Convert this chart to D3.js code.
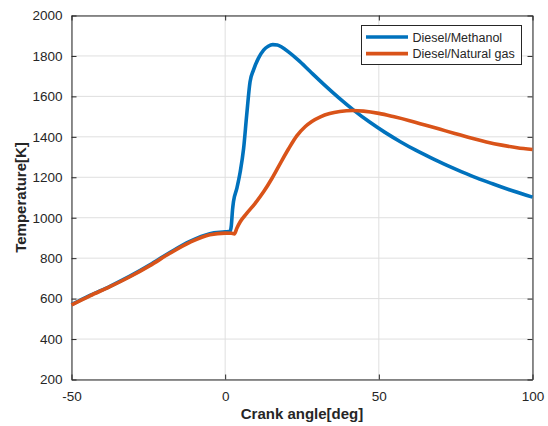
<!DOCTYPE html>
<html>
<head>
<meta charset="utf-8">
<script src="https://cdn.jsdelivr.net/npm/d3@7"></script>
<style>
  body { margin: 0; background: #fff; }
  text { font-family: "Liberation Sans", Arial, sans-serif; fill: #262626; }
</style>
</head>
<body>
<div id="chart-container"></div>
<script>
// Series data
const angleMethanol = [-50, -44, -37.5, -31, -24.5, -18, -11.5, -5, 0, 1.6, 2.0, 2.4, 2.7, 3.8, 4.9, 6.0, 7.0, 8.1, 9.2, 10.8, 12.5, 14, 15.5, 17, 18.5, 20.6, 23.8, 27.6, 32, 37, 42, 47, 52, 57, 62, 67, 72, 77, 82, 87, 92, 100];
const tempMethanol = [570, 616, 661, 711, 767, 828, 883, 921, 930, 933, 960, 1040, 1079, 1145, 1227, 1342, 1507, 1672, 1730, 1788, 1829, 1848, 1856, 1854, 1843, 1820, 1779, 1724, 1661, 1593, 1530, 1473, 1422, 1376, 1334, 1296, 1260, 1227, 1196, 1168, 1141, 1102];

const angleGas = [-50, -44, -37.5, -31, -24.5, -18, -11.5, -5, 0, 2, 3, 3.8, 4.9, 7, 9.7, 12.5, 15.2, 17.9, 20.6, 23.3, 26, 28.2, 31, 34, 37.3, 41.5, 45, 50, 55, 60, 65, 70, 75, 80, 85, 90, 95, 100];
const tempGas = [569, 614, 659, 708, 763, 824, 878, 916, 924, 923, 920, 948, 980, 1021, 1070, 1128, 1194, 1268, 1340, 1405, 1450, 1476, 1499, 1515, 1525, 1530, 1527, 1516, 1499, 1480, 1459, 1437, 1415, 1394, 1375, 1359, 1346, 1337];

const seriesNames = ["Diesel/Methanol", "Diesel/Natural gas"];
const seriesColors = ["#0072BD", "#D95319"];

const xTicks = [-50, 0, 50, 100];
const yTicks = [200, 400, 600, 800, 1000, 1200, 1400, 1600, 1800, 2000];

// Set dimensions and margins for the chart
const W = 548, H = 426;
const margin = { top: 15.5, right: 15.5, bottom: 46.5, left: 71.5 };
const width = W - margin.left - margin.right;
const height = H - margin.top - margin.bottom;

const x = d3.scaleLinear().domain([-50, 100]).range([0, width]);
const y = d3.scaleLinear().domain([200, 2000]).range([height, 0]);

const svg = d3.select("#chart-container")
    .append("svg")
    .attr("width", W)
    .attr("height", H);

const g = svg.append("g")
    .attr("transform", `translate(${margin.left},${margin.top})`);

// Grid lines
g.append("g")
    .selectAll("line")
    .data(yTicks)
    .join("line")
    .attr("x1", 0).attr("x2", width)
    .attr("y1", d => y(d)).attr("y2", d => y(d))
    .attr("stroke", "#dfdfdf").attr("stroke-width", 1);

g.append("g")
    .selectAll("line")
    .data(xTicks)
    .join("line")
    .attr("y1", 0).attr("y2", height)
    .attr("x1", d => x(d)).attr("x2", d => x(d))
    .attr("stroke", "#dfdfdf").attr("stroke-width", 1);

// Axes, ticks inward on all four sides
function styleAxis(sel) {
    sel.select(".domain").attr("stroke", "#262626");
    sel.selectAll(".tick line").attr("stroke", "#262626");
    sel.selectAll(".tick text")
        .style("font-size", "13.5px")
        .attr("fill", "#262626");
}

const plain = d => String(d);  // keep hyphen minus like the original

g.append("g")
    .attr("transform", `translate(0,${height})`)
    .call(d3.axisBottom(x).tickValues(xTicks).tickFormat(plain).tickSizeInner(-5).tickSizeOuter(0).tickPadding(12))
    .call(styleAxis);

g.append("g")
    .call(d3.axisTop(x).tickValues(xTicks).tickSizeInner(-5).tickSizeOuter(0).tickFormat(""))
    .call(styleAxis);

g.append("g")
    .call(d3.axisLeft(y).tickValues(yTicks).tickFormat(plain).tickSizeInner(-5).tickSizeOuter(0).tickPadding(9))
    .call(styleAxis);

g.append("g")
    .attr("transform", `translate(${width},0)`)
    .call(d3.axisRight(y).tickValues(yTicks).tickSizeInner(-5).tickSizeOuter(0).tickFormat(""))
    .call(styleAxis);

// Lines
const line = d3.line()
    .x(d => x(d[0]))
    .y(d => y(d[1]))
    .curve(d3.curveMonotoneX);

const series = [
    d3.zip(angleMethanol, tempMethanol),
    d3.zip(angleGas, tempGas)
];

series.forEach((s, i) => {
    g.append("path")
        .datum(s)
        .attr("fill", "none")
        .attr("stroke", seriesColors[i])
        .attr("stroke-width", 3.6)
        .attr("stroke-linejoin", "round")
        .attr("d", line);
});

// Axis titles
svg.append("text")
    .attr("x", margin.left + width / 2)
    .attr("y", 419)
    .attr("text-anchor", "middle")
    .style("font-size", "15px")
    .style("font-weight", "bold")
    .text("Crank angle[deg]");

svg.append("text")
    .attr("transform", `translate(26,${margin.top + height / 2}) rotate(-90)`)
    .attr("text-anchor", "middle")
    .style("font-size", "15px")
    .style("font-weight", "bold")
    .text("Temperature[K]");

// Legend
const legend = svg.append("g");
legend.append("rect")
    .attr("x", 361.5).attr("y", 25.5)
    .attr("width", 160).attr("height", 39)
    .attr("fill", "#fff")
    .attr("stroke", "#262626").attr("stroke-width", 1);

seriesNames.forEach((name, i) => {
    const ly = 37 + i * 16.6;
    legend.append("line")
        .attr("x1", 366).attr("x2", 408)
        .attr("y1", ly).attr("y2", ly)
        .attr("stroke", seriesColors[i])
        .attr("stroke-width", 3.6);
    legend.append("text")
        .attr("x", 412.5).attr("y", ly + 4.5)
        .style("font-size", "12.5px")
        .text(name);
});
</script>
</body>
</html>
